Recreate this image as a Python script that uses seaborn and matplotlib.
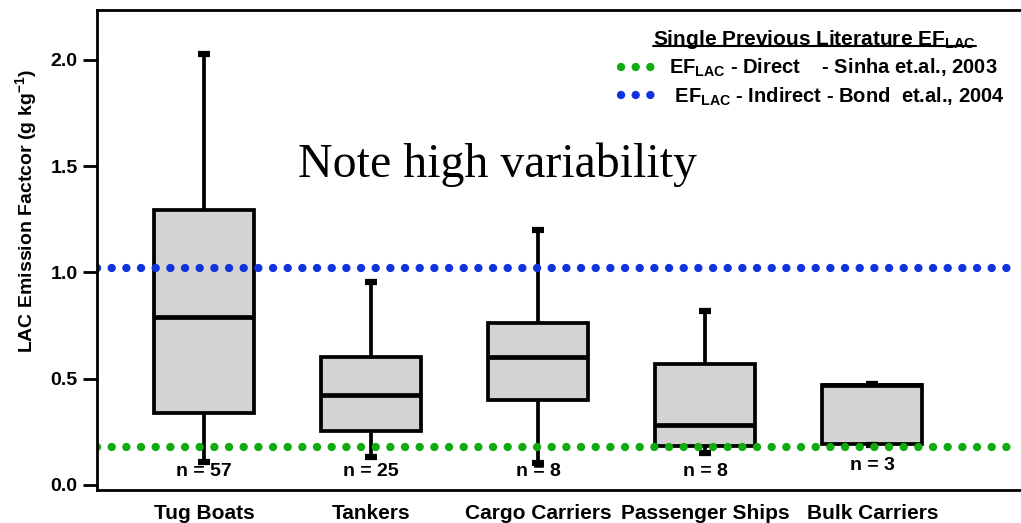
import numpy as np
import pandas as pd
import matplotlib
matplotlib.use("Agg")
import matplotlib.pyplot as plt
import seaborn as sns
from matplotlib.lines import Line2D

# ---- data (five-number summaries) ----
categories = ["Tug Boats", "Tankers", "Cargo Carriers", "Passenger Ships", "Bulk Carriers"]
whisker_low = [0.11, 0.13, 0.105, 0.15, 0.19]
quartile_1 = [0.34, 0.255, 0.40, 0.185, 0.195]
medians = [0.79, 0.425, 0.60, 0.28, 0.47]
quartile_3 = [1.295, 0.60, 0.76, 0.57, 0.47]
whisker_high = [2.03, 0.955, 1.20, 0.82, 0.475]
n_counts = [57, 25, 8, 8, 3]
ef_direct = 0.178    # Sinha et al., 2003
ef_indirect = 1.02   # Bond et al., 2004
y_ticks = [0.0, 0.5, 1.0, 1.5, 2.0]

rows = []
for c, a, b, m, d, e in zip(categories, whisker_low, quartile_1, medians, quartile_3, whisker_high):
    for v in (a, b, m, d, e):
        rows.append({"vessel": c, "ef": v})
df = pd.DataFrame(rows)

sns.set_theme(style="white")
plt.rcParams["font.family"] = ["Liberation Sans", "DejaVu Sans"]
plt.rcParams["mathtext.fontset"] = "custom"
plt.rcParams["mathtext.rm"] = "Liberation Sans"
plt.rcParams["mathtext.bf"] = "Liberation Sans:bold"
plt.rcParams["mathtext.it"] = "Liberation Sans:italic"
plt.rcParams["text.color"] = "black"
plt.rcParams["axes.labelcolor"] = "black"
plt.rcParams["xtick.color"] = "black"
plt.rcParams["ytick.color"] = "black"

fig = plt.figure(figsize=(10.21, 5.23), dpi=100)
ax = fig.add_axes([0.095, 0.063, 0.905, 0.918])

sns.boxplot(data=df, x="vessel", y="ef", order=categories, whis=np.inf,
            color="#d3d3d3", linecolor="black", linewidth=2.7, width=0.6,
            showfliers=False, ax=ax,
            medianprops=dict(linewidth=3.4, color="black"),
            capprops=dict(linewidth=4.5, color="black", solid_capstyle="butt"),
            capwidths=0.07)

green = ax.axhline(ef_direct, color="#11aa11", linewidth=6,
                   linestyle=(0, (0.01, 1.75)), dash_capstyle="round")
blue = ax.axhline(ef_indirect, color="#1133dd", linewidth=6,
                  linestyle=(0, (0.01, 1.75)), dash_capstyle="round")

for i, n in enumerate(n_counts):
    ax.text(i, 0.065 if n != 3 else 0.09, f"n = {n}", ha="center", va="center",
            fontsize=14, fontweight="bold")

ax.text(0.2175, 0.677, "Note high variability", transform=ax.transAxes,
        fontsize=34.5, family="Liberation Serif", ha="left", va="center", color="black")

ax.set_xlim(-0.64, 4.89)
ax.set_ylim(-0.024, 2.235)
ax.set_yticks(y_ticks)
ax.set_yticklabels([f"{t:.1f}" for t in y_ticks], fontsize=14, fontweight="bold")
ax.tick_params(axis="y", direction="out", length=10, width=2, left=True, pad=4)
ax.tick_params(axis="x", length=0, pad=10)
for lab in ax.get_xticklabels():
    lab.set_fontsize(15)
    lab.set_fontweight("bold")
ax.set_xlabel("")
ax.set_ylabel(r"LAC Emission Factcor (g kg$^{\mathbf{-1}}$)", fontsize=14, fontweight="bold")
ax.yaxis.set_label_coords(-0.063, 0.58)

for s in ["left", "bottom", "top"]:
    ax.spines[s].set_visible(True)
    ax.spines[s].set_color("black")
    ax.spines[s].set_linewidth(2)
ax.spines["right"].set_visible(False)

# legend
title = ax.text(0.777, 0.9375, r"Single Previous Literature EF$_{\mathbf{LAC}}$",
                transform=ax.transAxes, ha="center", va="center",
                fontsize=15, fontweight="bold")
leg = ax.legend([green, blue],
                [r"$\mathbf{EF}_{\mathbf{LAC}}$ - Direct    - Sinha et.al., 2003",
                 r" $\mathbf{EF}_{\mathbf{LAC}}$ - Indirect - Bond  et.al., 2004"],
                loc="upper left", bbox_to_anchor=(0.548, 0.94), frameon=False,
                handlelength=1.6, handletextpad=0.75, labelspacing=0.3,
                prop={"weight": "bold", "size": 14.5})

fig.canvas.draw()
bb = title.get_window_extent()
fig.add_artist(Line2D([bb.x0 / fig.bbox.width, bb.x1 / fig.bbox.width],
                      [(bb.y0 + 5) / fig.bbox.height] * 2,
                      color="black", linewidth=1.5, transform=fig.transFigure))

fig.savefig("out.png", dpi=100)
